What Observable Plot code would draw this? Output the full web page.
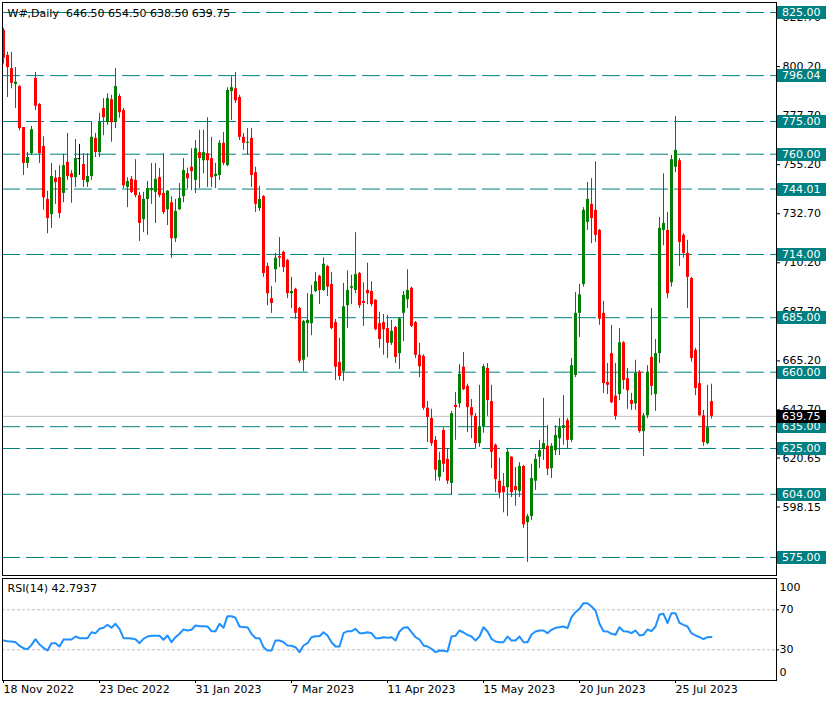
<!DOCTYPE html>
<html><head><meta charset="utf-8">
<script src="https://cdn.jsdelivr.net/npm/d3@7"></script>
<script src="https://cdn.jsdelivr.net/npm/@observablehq/plot@0.6"></script>
<style>
html,body{margin:0;padding:0;background:#fff;}
#chart{width:832px;height:704px;position:relative;overflow:hidden;background:#fff;}
#chart svg{display:block;}
</style></head><body><div id="chart"></div>
<script>
const symbolTitle = "W#,Daily\u00a0\u00a0646.50 654.50 638.50 639.75";
const rsiTitle = "RSI(14) 42.7937";

const opens = [
816.75,805.25,799.25,792.0,791.0,772.25,755.75,760.25,794.75,782.75,
763.5,739.25,732.25,749.0,749.25,742.0,756.25,751.0,749.25,758.0,
755.25,747.0,749.75,767.25,760.75,781.0,774.5,785.0,774.5,786.5,
780.0,744.75,748.5,748.0,741.0,730.0,739.25,743.25,742.5,749.25,
742.0,734.5,737.75,721.25,734.5,740.5,751.0,754.0,748.0,760.75,
757.0,760.25,758.0,749.75,750.25,765.0,754.75,788.75,790.0,786.0,
767.75,765.0,767.25,751.5,735.0,740.5,708.5,693.75,707.0,713.0,
715.0,711.25,696.0,698.0,689.25,665.5,682.25,682.25,697.0,704.0,
697.5,708.5,700.25,682.75,664.5,660.25,690.5,698.5,697.5,705.25,
692.5,697.5,697.0,693.0,682.25,682.75,680.0,673.25,680.5,668.5,
687.0,693.25,698.5,682.75,667.75,667.25,643.5,638.75,628.75,611.75,
633.25,620.0,609.0,644.75,645.5,662.25,653.5,643.75,639.75,627.25,
635.0,661.75,646.5,626.5,610.0,607.5,607.0,621.0,607.5,605.25,
616.75,591.0,593.75,610.0,621.0,624.5,626.0,615.75,624.0,629.5,
634.25,637.75,628.75,658.5,687.0,700.25,728.75,737.0,734.25,725.0,
687.0,655.25,668.5,649.0,649.75,673.5,657.0,647.0,645.5,660.0,
632.75,640.0,666.75,649.75,668.5,725.0,725.0,701.0,754.0,757.0,
722.75,714.5,703.0,670.0,654.75,640.0,627.25,646.5];
const highs = [
817.75,806.75,806.75,799.75,791.5,772.25,760.75,772.75,797.5,783.25,
768.0,743.0,755.75,752.5,754.75,760.0,769.5,752.5,766.75,764.5,
760.25,760.25,774.5,769.5,778.75,785.5,787.75,787.0,799.25,787.5,
781.0,749.25,749.75,757.5,742.5,742.5,747.5,755.75,755.75,753.5,
760.25,743.25,740.5,739.25,746.5,758.0,753.5,762.5,766.25,771.0,
771.0,776.75,767.75,755.75,766.25,770.0,790.5,795.5,797.5,787.0,
769.5,771.75,771.75,754.0,745.25,741.0,710.0,699.25,714.5,721.75,
715.5,711.75,703.5,698.5,689.75,683.75,696.0,699.75,705.75,704.5,
712.5,709.0,705.75,684.25,675.5,700.75,706.5,704.5,724.0,705.75,
701.0,710.0,701.5,693.25,687.5,686.5,686.0,683.75,681.0,685.0,
697.0,707.0,699.0,683.25,673.25,668.0,646.5,643.0,630.5,623.25,
634.5,625.0,642.0,650.75,663.5,669.0,654.5,647.5,641.0,654.0,
663.5,664.0,654.0,627.0,620.5,613.5,625.0,621.25,616.25,618.5,
617.25,594.75,617.75,622.25,628.75,648.0,635.5,627.25,635.5,638.75,
649.25,638.75,666.25,696.5,700.25,735.5,747.0,748.75,756.5,725.5,
692.5,664.0,681.5,664.0,680.0,674.0,661.75,650.25,665.5,660.75,
641.0,663.0,689.25,675.0,731.0,751.0,733.25,759.5,777.25,758.0,
723.5,720.5,703.5,671.0,684.5,642.5,654.0,654.5];
const lows = [
801.25,786.0,790.0,781.0,770.75,750.25,753.5,759.5,780.0,755.75,
734.25,723.5,726.0,737.0,730.5,737.75,748.0,737.5,744.75,750.25,
744.75,744.75,748.0,758.5,758.5,768.5,773.25,765.5,771.75,776.5,
744.25,735.5,742.0,740.0,720.0,724.0,722.75,737.0,728.25,740.0,
732.25,727.25,712.25,719.5,734.25,737.75,744.25,743.25,742.0,744.25,
751.0,744.75,744.75,744.25,748.0,754.75,754.25,775.5,783.25,766.25,
761.75,759.5,744.75,733.25,733.75,703.5,690.5,687.0,701.0,708.0,
705.75,693.75,689.25,684.25,664.0,660.25,666.75,676.75,696.5,691.0,
697.0,694.75,679.5,656.25,656.25,655.75,680.0,691.0,696.0,689.25,
681.0,691.0,690.0,679.0,671.0,667.75,666.25,672.25,664.0,661.25,
674.0,689.25,680.5,666.25,657.5,642.5,627.75,626.0,610.0,610.0,
614.0,608.5,603.5,628.75,643.5,651.5,632.25,629.5,625.0,625.5,
632.0,639.75,615.75,604.75,602.0,595.5,593.75,602.5,598.5,602.5,
588.25,572.75,592.0,605.75,615.75,619.5,612.5,611.25,621.75,621.75,
626.5,625.0,627.75,657.5,676.0,699.0,725.0,719.0,719.5,681.5,
650.25,649.75,645.5,638.0,647.0,652.0,643.0,642.5,642.5,632.0,
621.25,638.75,649.25,642.0,664.0,718.0,693.75,699.0,751.5,708.5,
712.25,689.25,664.5,649.25,639.75,626.0,626.75,638.5];
const closes = [
804.0,799.75,792.5,793.0,771.75,755.75,758.5,771.25,782.0,760.25,
740.0,730.5,749.75,747.0,732.75,754.75,749.75,749.25,758.0,758.0,
748.0,749.75,767.75,760.75,774.5,776.75,785.5,774.5,791.0,779.0,
745.5,747.5,742.5,741.0,728.25,739.25,744.25,744.25,748.5,741.0,
733.25,743.0,721.25,733.75,739.75,752.5,748.75,752.0,762.5,758.0,
760.75,757.0,749.25,750.75,765.0,755.75,789.25,790.5,784.5,767.75,
765.0,765.5,750.25,737.0,739.25,705.25,696.0,691.5,712.25,712.25,
708.0,696.0,697.0,687.0,665.0,683.25,683.75,695.5,701.5,697.5,
709.5,699.0,680.0,662.25,658.0,690.0,697.5,699.25,704.75,690.5,
691.5,696.0,691.0,679.5,675.0,679.5,673.25,678.75,666.75,684.5,
695.25,697.5,681.0,667.75,662.5,643.5,639.25,627.25,615.0,619.5,
617.75,610.0,641.0,643.75,659.0,652.0,643.75,640.0,627.25,635.0,
662.5,647.0,623.25,610.75,604.5,604.75,623.25,604.75,605.75,616.75,
590.0,593.75,611.25,620.0,624.0,627.25,615.5,626.0,631.0,634.5,
635.5,628.75,663.0,687.0,695.5,734.25,739.25,730.5,722.75,684.25,
654.75,654.0,646.0,639.75,673.5,656.25,651.5,645.25,659.5,632.75,
640.0,660.0,653.5,668.5,726.0,728.25,696.0,757.5,761.75,719.5,
714.5,703.5,666.25,652.5,640.0,627.75,634.5,639.75];
const rsi = [
39.3,38.6,38.3,37.6,34,31.6,30.6,35,40.6,35.3,
32,29.3,36.6,36.6,33.3,40.3,40.3,40.3,43.3,41.6,
41.6,41.6,47.6,46.6,51,52,55,52,56,51,
41.6,41.6,41.3,40.6,36.6,41,43.3,44,44,44,
40,44.3,37.6,42.6,46,50.3,49.3,50,54.3,53.6,
53.6,53.3,48.6,48.6,56,52,63.6,63.6,62,53.3,
52.6,52.6,46,41.6,41.6,32.6,29.3,29.3,39.3,39.3,
37.6,34.3,34,32.6,27.6,34.3,36.6,42.6,43.6,43.6,
47.6,44.3,37.6,33.3,33.3,46.6,48.6,48.6,51,46.6,
46.6,47.6,46.6,41.6,41.6,42.6,42,42.6,39.3,48.3,
52,52.6,47.6,42.6,40.3,34.3,33.3,31,27.6,29.3,
29,28.3,43.3,44,49.3,47.3,45,43.3,39.3,43.3,
52.6,48.3,41,38.3,37.6,37.6,43.3,39.3,39.3,43.3,
37.6,37.6,45.3,48.3,49.3,49.3,46.6,50,52,52.6,
53.3,51.6,62.6,67.6,71,76.6,76.6,73.3,69.3,56,
48.6,48.3,46,45,52.6,48.6,48.3,46.6,49.3,44.3,
45,50.3,48.6,53.3,65.3,66,56.6,66.6,66.6,57,
55,53.3,46.6,44.3,42.6,40.6,42.6,42.79];

const levels = [825, 796.04, 775, 760, 744.01, 714, 685, 660, 635, 625, 604, 575];
const lastPrice = 639.75;
const priceTicks = [822.70, 800.20, 777.70, 755.20, 732.70, 710.20, 687.70, 665.20, 642.70, 620.65, 598.15];
const rsiTicks = [70, 30];
const rsiTop = [100];
const rsiBottom = [0];
const dateTickBars = [0, 24, 48, 72, 96, 120, 144, 168];
const dateLabels = ["18 Nov 2022", "23 Dec 2022", "31 Jan 2023", "7 Mar 2023", "11 Apr 2023", "15 May 2023", "20 Jun 2023", "25 Jul 2023"];

const UP = "#008000", DOWN = "#ff0000", TEAL = "#008080";
const bars = opens.map((o, i) => ({i, open: o, high: highs[i], low: lows[i], close: closes[i]}));
const upBars = bars.filter(d => d.close > d.open);
const downBars = bars.filter(d => d.close < d.open);
const flatBars = bars.filter(d => d.close === d.open);
const rsiData = rsi.map((v, i) => ({i, v}));

const W = 832;
const xDomain = [-0.25, 193.25];
const font = {fontFamily: "'DejaVu Sans', sans-serif", fontSize: "11px", background: "white", color: "black", overflow: "visible"};

function priceTags(vals, fill) {
  return function(index, scales) {
    const dims = [...arguments].find(a => a && typeof a === "object" && "marginRight" in a && "width" in a);
    const g = d3.create("svg:g").attr("text-anchor", "start");
    const x0 = dims.width - dims.marginRight + 1;
    for (const v of vals) {
      const y = Math.round(scales.y(v));
      g.append("rect").attr("x", x0).attr("y", y - 6).attr("width", 49).attr("height", 13).attr("fill", fill);
      g.append("text").attr("x", x0 + 5).attr("y", y + 0.5).attr("dy", "0.36em")
        .attr("text-anchor", "start").attr("fill", "white").text(v.toFixed(2));
    }
    return g.node();
  };
}

const main = Plot.plot({
  width: W, height: 577,
  marginLeft: 2, marginRight: 56, marginTop: 2, marginBottom: 2,
  style: font,
  x: {type: "linear", domain: xDomain, axis: null},
  y: {domain: [566.74, 829.59], axis: "right", ticks: priceTicks, tickFormat: d => d.toFixed(2), tickSize: 3, tickPadding: 3, label: null},
  marks: [
    Plot.ruleY([lastPrice], {stroke: "#c0c0c0"}),
    Plot.ruleY(levels, {stroke: TEAL, strokeDasharray: "18,6"}),
    Plot.ruleX(upBars, {x: "i", y1: "low", y2: "high", stroke: UP, strokeWidth: 1}),
    Plot.ruleX(upBars, {x: "i", y1: "open", y2: "close", stroke: UP, strokeWidth: 3}),
    Plot.ruleX(downBars, {x: "i", y1: "low", y2: "high", stroke: DOWN, strokeWidth: 1}),
    Plot.ruleX(downBars, {x: "i", y1: "open", y2: "close", stroke: DOWN, strokeWidth: 3}),
    Plot.ruleX(flatBars, {x: "i", y1: "low", y2: "high", stroke: "black", strokeWidth: 1}),
    Plot.ruleY(flatBars, {y: "open", x1: d => d.i - 0.375, x2: d => d.i + 0.375, stroke: "black"}),
    Plot.frame({stroke: "black"}),
    Plot.text([symbolTitle], {frameAnchor: "top-left", dx: 5, dy: 7, lineAnchor: "top", textAnchor: "start", fill: "black"}),
    priceTags(levels, TEAL),
    priceTags([lastPrice], "#000000")
  ]
});

const sub = Plot.plot({
  width: W, height: 127,
  marginLeft: 2, marginRight: 56, marginTop: 1, marginBottom: 24,
  style: font,
  x: {type: "linear", domain: xDomain, axis: "bottom", ticks: dateTickBars, tickFormat: () => "", tickSize: 3, label: null},
  y: {domain: [-0.7, 101.3], axis: "right", ticks: rsiTicks, tickFormat: d => String(d), tickSize: 2, tickPadding: 1, label: null},
  marks: [
    Plot.ruleY(rsiTicks, {stroke: "#c0c0c0", strokeDasharray: "3,2"}),
    Plot.line(rsiData, {x: "i", y: "v", stroke: "#1e90ff", strokeWidth: 2}),
    Plot.frame({stroke: "black"}),
    Plot.text([rsiTitle], {frameAnchor: "top-left", dx: 5, dy: 6, lineAnchor: "top", textAnchor: "start", fill: "black"}),
    Plot.text(rsiTop, {frameAnchor: "top-right", text: d => String(d), dx: 3, dy: 5, textAnchor: "start", fill: "black"}),
    Plot.text(rsiBottom, {frameAnchor: "bottom-right", text: d => String(d), dx: 3, dy: -5, textAnchor: "start", fill: "black"}),
    Plot.text(dateTickBars, {x: d => d, text: (d, i) => dateLabels[i], frameAnchor: "bottom", dy: 12, textAnchor: "start", fill: "black"})
  ]
});

const root = document.getElementById("chart");
root.appendChild(main);
root.appendChild(sub);
</script>
</body></html>
